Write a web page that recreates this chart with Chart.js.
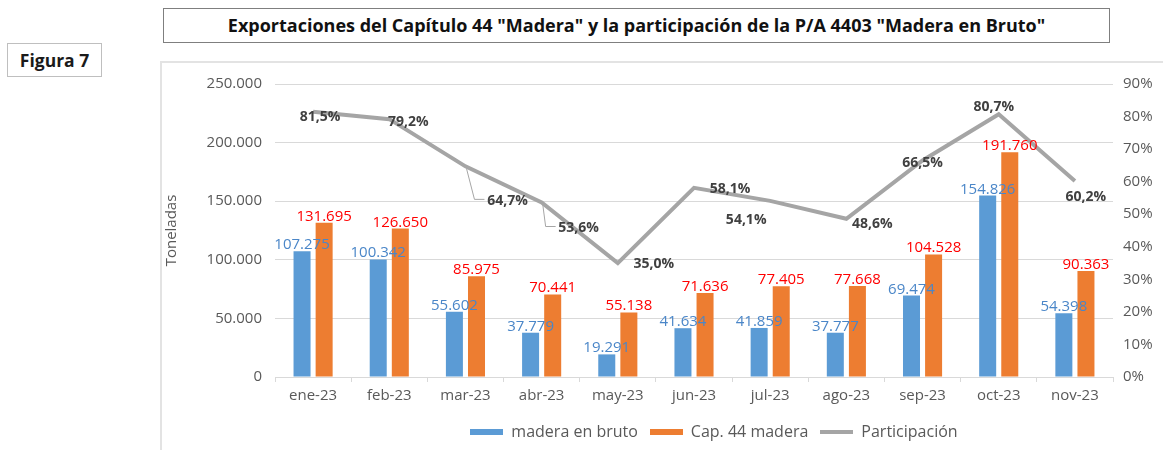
<!DOCTYPE html>
<html>
<head>
<meta charset="utf-8">
<script src="https://cdn.jsdelivr.net/npm/chart.js@4.4.1/dist/chart.umd.min.js"></script>
<style>
  body { margin: 0; background: #fff; width: 1163px; height: 450px; overflow: hidden; position: relative; font-family: "Open Sans", sans-serif; }
  .fig { position: absolute; left: 7px; top: 43px; width: 93px; height: 32px; border: 1px solid #BFBFBF;
         font: bold 17.5px "Open Sans", sans-serif; color: #1a1a1a; text-align: center; line-height: 32px; }
  .ttl { position: absolute; left: 163px; top: 8px; width: 945px; height: 33px; border: 1px solid #7F7F7F;
         font: bold 18px "Open Sans", sans-serif; color: #111; text-align: center; line-height: 33px; white-space: nowrap; }
  .frame { position: absolute; left: 160px; top: 61px; width: 1010px; height: 400px; border: 2px solid #E3E3E3; }
  .wrap { position: absolute; left: 161px; top: 62px; width: 1002px; height: 388px; }
</style>
</head>
<body>
<div class="fig">Figura 7</div>
<div class="ttl">Exportaciones del Capítulo 44 "Madera" y la participación de la P/A 4403 "Madera en Bruto"</div>
<div class="frame"></div>
<div class="wrap"><canvas id="c"></canvas></div>
<script>
const categories = ['ene-23','feb-23','mar-23','abr-23','may-23','jun-23','jul-23','ago-23','sep-23','oct-23','nov-23'];
const maderaBruto = [107275, 100342, 55602, 37779, 19291, 41634, 41859, 37777, 69474, 154826, 54398];
const cap44 = [131695, 126650, 85975, 70441, 55138, 71636, 77405, 77668, 104528, 191760, 90363];
const participacion = [81.5, 79.2, 64.7, 53.6, 35.0, 58.1, 54.1, 48.6, 66.5, 80.7, 60.2];

// where each % label sits relative to its point (dx, dy)
const pctLabelPos = [[7,5],[19,3],[42,35],[37,26],[36,1],[36,1],[-24,19],[26,5],[0,3],[-5,-7],[11,16]];
// leader lines: [index, [[dx,dy],...]]
const leaders = [[2, [[1,2],[9,33],[19,33]]], [3, [[1,1],[4,24],[14,24]]]];

const BLUE = '#5B9BD5', ORANGE = '#ED7D31', GREY = '#A5A5A5', TXT = '#595959';
const FONT = '"Open Sans", sans-serif';

const miles = v => String(v).replace(/\B(?=(\d{3})+(?!\d))/g, '.');
const pct = v => v.toFixed(1).replace('.', ',') + '%';

function swatch(color, w, h) {
    const c = document.createElement('canvas');
    c.width = w; c.height = h;
    const x = c.getContext('2d');
    x.fillStyle = color; x.fillRect(0, 0, w, h);
    return c;
}
const legendImgs = [swatch(BLUE, 33, 6), swatch(ORANGE, 33, 6), swatch(GREY, 33, 4)];

const valueLabels = {
    id: 'valueLabels',
    afterLayout(chart) {
        // the legend in the original sits right of centre
        chart.legend.left += 52;
        chart.legend.right += 52;
    },
    afterDatasetsDraw(chart) {
        const ctx = chart.ctx;
        ctx.save();
        ctx.textAlign = 'center';
        ctx.textBaseline = 'alphabetic';
        ctx.font = '15px ' + FONT;
        [[0, '#4A86C8'], [1, '#FF0000']].forEach(([di, col]) => {
            ctx.fillStyle = col;
            chart.getDatasetMeta(di).data.forEach((bar, i) => {
                ctx.fillText(miles(chart.data.datasets[di].data[i]), bar.x, bar.y - 2);
            });
        });
        const pts = chart.getDatasetMeta(2).data;
        ctx.strokeStyle = '#A6A6A6';
        ctx.lineWidth = 1;
        leaders.forEach(([i, path]) => {
            ctx.beginPath();
            path.forEach(([dx, dy], k) => {
                const px = pts[i].x + dx, py = pts[i].y + dy;
                k ? ctx.lineTo(px, py) : ctx.moveTo(px, py);
            });
            ctx.stroke();
        });
        ctx.font = 'bold 14px ' + FONT;
        ctx.fillStyle = '#404040';
        ctx.textBaseline = 'middle';
        pts.forEach((p, i) => {
            const [dx, dy] = pctLabelPos[i];
            ctx.fillText(pct(participacion[i]), p.x + dx, p.y + dy);
        });
        ctx.restore();
    }
};

Chart.defaults.font.family = FONT;
Chart.defaults.font.size = 15;
Chart.defaults.color = TXT;

new Chart(document.getElementById('c'), {
    type: 'bar',
    data: {
        labels: categories,
        datasets: [
            {label: 'madera en bruto', data: maderaBruto, backgroundColor: BLUE, yAxisID: 'y', order: 1,
             barPercentage: 0.77, categoryPercentage: 0.58},
            {label: 'Cap. 44 madera', data: cap44, backgroundColor: ORANGE, yAxisID: 'y', order: 1,
             barPercentage: 0.77, categoryPercentage: 0.58},
            {label: 'Participación', type: 'line', data: participacion, yAxisID: 'y1', order: 0,
             borderColor: GREY, borderWidth: 4, pointRadius: 0, tension: 0, fill: false}
        ]
    },
    options: {
        responsive: true,
        maintainAspectRatio: false,
        animation: false,
        events: [],
        layout: { padding: { top: 13, bottom: 0, left: 0, right: 0 } },
        scales: {
            x: {
                grid: { drawOnChartArea: false, drawTicks: true, tickLength: 5, color: '#D9D9D9', offset: true },
                border: { color: '#D9D9D9' },
                ticks: { padding: 5, color: TXT, font: { size: 15 } },
                afterFit: s => { s.height = 35; }
            },
            y: {
                min: 0, max: 250000,
                ticks: { stepSize: 50000, padding: 13, color: TXT, callback: v => miles(v) },
                grid: { color: '#D9D9D9', drawTicks: false },
                border: { display: false },
                title: { display: true, text: 'Toneladas', color: TXT, font: { size: 15 }, padding: { top: 2, bottom: 0 } },
                afterFit: s => { s.width = 114; }
            },
            y1: {
                position: 'right',
                min: 0, max: 90,
                ticks: { stepSize: 10, padding: 10, color: TXT, callback: v => v + '%' },
                grid: { drawOnChartArea: false, drawTicks: false },
                border: { display: false },
                afterFit: s => { s.width = 50; }
            }
        },
        plugins: {
            tooltip: { enabled: false },
            legend: {
                position: 'bottom',
                labels: {
                    usePointStyle: true,
                    pointStyleWidth: 33,
                    padding: 12,
                    color: TXT,
                    font: { size: 16 },
                    sort: (a, b) => a.datasetIndex - b.datasetIndex,
                    generateLabels: chart => {
                        const items = Chart.defaults.plugins.legend.labels.generateLabels(chart);
                        items.forEach(it => { it.pointStyle = legendImgs[it.datasetIndex]; });
                        return items;
                    }
                }
            }
        }
    },
    plugins: [valueLabels]
});
</script>
</body>
</html>
